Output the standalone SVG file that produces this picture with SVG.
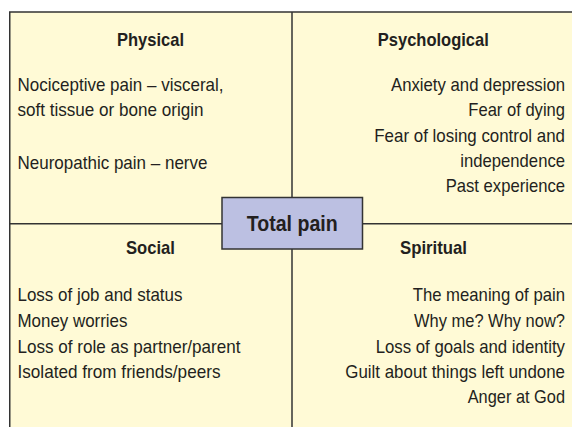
<svg xmlns="http://www.w3.org/2000/svg" width="572" height="427" viewBox="0 0 572 427">
<style>
.t{font-family:"Liberation Sans",Arial,sans-serif;font-size:19px;fill:#231f20}
.h{font-weight:bold;text-anchor:middle}
.r{text-anchor:end}
.ln{stroke:#333;stroke-width:1.5}
.bg{fill:#fffad6}
.box{fill:#bcc0e2}
</style>
<rect x="0" y="0" width="572" height="427" fill="#ffffff"/>
<rect x="9.75" y="12" width="600" height="500" class="ln bg"/>
<g id="connectors">
<line class="ln" x1="292" y1="12" x2="292" y2="440"/>
<line class="ln" x1="9.75" y1="223.7" x2="580" y2="223.7"/>
</g>
<g id="physical">
<text class="t h" x="150.5" y="45.7" textLength="67" lengthAdjust="spacingAndGlyphs">Physical</text>
<text class="t" x="17.5" y="90.7" textLength="206" lengthAdjust="spacingAndGlyphs">Nociceptive pain – visceral,</text>
<text class="t" x="17.5" y="115.5" textLength="186" lengthAdjust="spacingAndGlyphs">soft tissue or bone origin</text>
<text class="t" x="17.5" y="169" textLength="190" lengthAdjust="spacingAndGlyphs">Neuropathic pain – nerve</text>
</g>
<g id="psychological">
<text class="t h" x="433.3" y="45.7" textLength="111" lengthAdjust="spacingAndGlyphs">Psychological</text>
<text class="t r" x="565" y="90.7" textLength="174" lengthAdjust="spacingAndGlyphs">Anxiety and depression</text>
<text class="t r" x="565" y="115.7" textLength="96.7" lengthAdjust="spacingAndGlyphs">Fear of dying</text>
<text class="t r" x="565" y="141.5" textLength="190.7" lengthAdjust="spacingAndGlyphs">Fear of losing control and</text>
<text class="t r" x="565" y="166.7" textLength="104.7" lengthAdjust="spacingAndGlyphs">independence</text>
<text class="t r" x="565" y="192.3" textLength="119.3" lengthAdjust="spacingAndGlyphs">Past experience</text>
</g>
<g id="social">
<text class="t h" x="150.5" y="254.3" textLength="49" lengthAdjust="spacingAndGlyphs">Social</text>
<text class="t" x="17.5" y="301" textLength="165" lengthAdjust="spacingAndGlyphs">Loss of job and status</text>
<text class="t" x="17.5" y="326.7" textLength="110" lengthAdjust="spacingAndGlyphs">Money worries</text>
<text class="t" x="17.5" y="352.5" textLength="223" lengthAdjust="spacingAndGlyphs">Loss of role as partner/parent</text>
<text class="t" x="17.5" y="377.7" textLength="203" lengthAdjust="spacingAndGlyphs">Isolated from friends/peers</text>
</g>
<g id="spiritual">
<text class="t h" x="433.5" y="254.3" textLength="67" lengthAdjust="spacingAndGlyphs">Spiritual</text>
<text class="t r" x="565" y="301" textLength="152.3" lengthAdjust="spacingAndGlyphs">The meaning of pain</text>
<text class="t r" x="565" y="326.7" textLength="151" lengthAdjust="spacingAndGlyphs">Why me? Why now?</text>
<text class="t r" x="565" y="352.5" textLength="189.3" lengthAdjust="spacingAndGlyphs">Loss of goals and identity</text>
<text class="t r" x="565" y="377.7" textLength="219.7" lengthAdjust="spacingAndGlyphs">Guilt about things left undone</text>
<text class="t r" x="565" y="403" textLength="97.3" lengthAdjust="spacingAndGlyphs">Anger at God</text>
</g>
<g id="total-pain">
<rect x="222" y="197.5" width="140.5" height="51.5" class="ln box"/>
<text class="t h" x="292.2" y="230.7" style="font-size:22px" textLength="91" lengthAdjust="spacingAndGlyphs">Total pain</text>
</g>
</svg>
